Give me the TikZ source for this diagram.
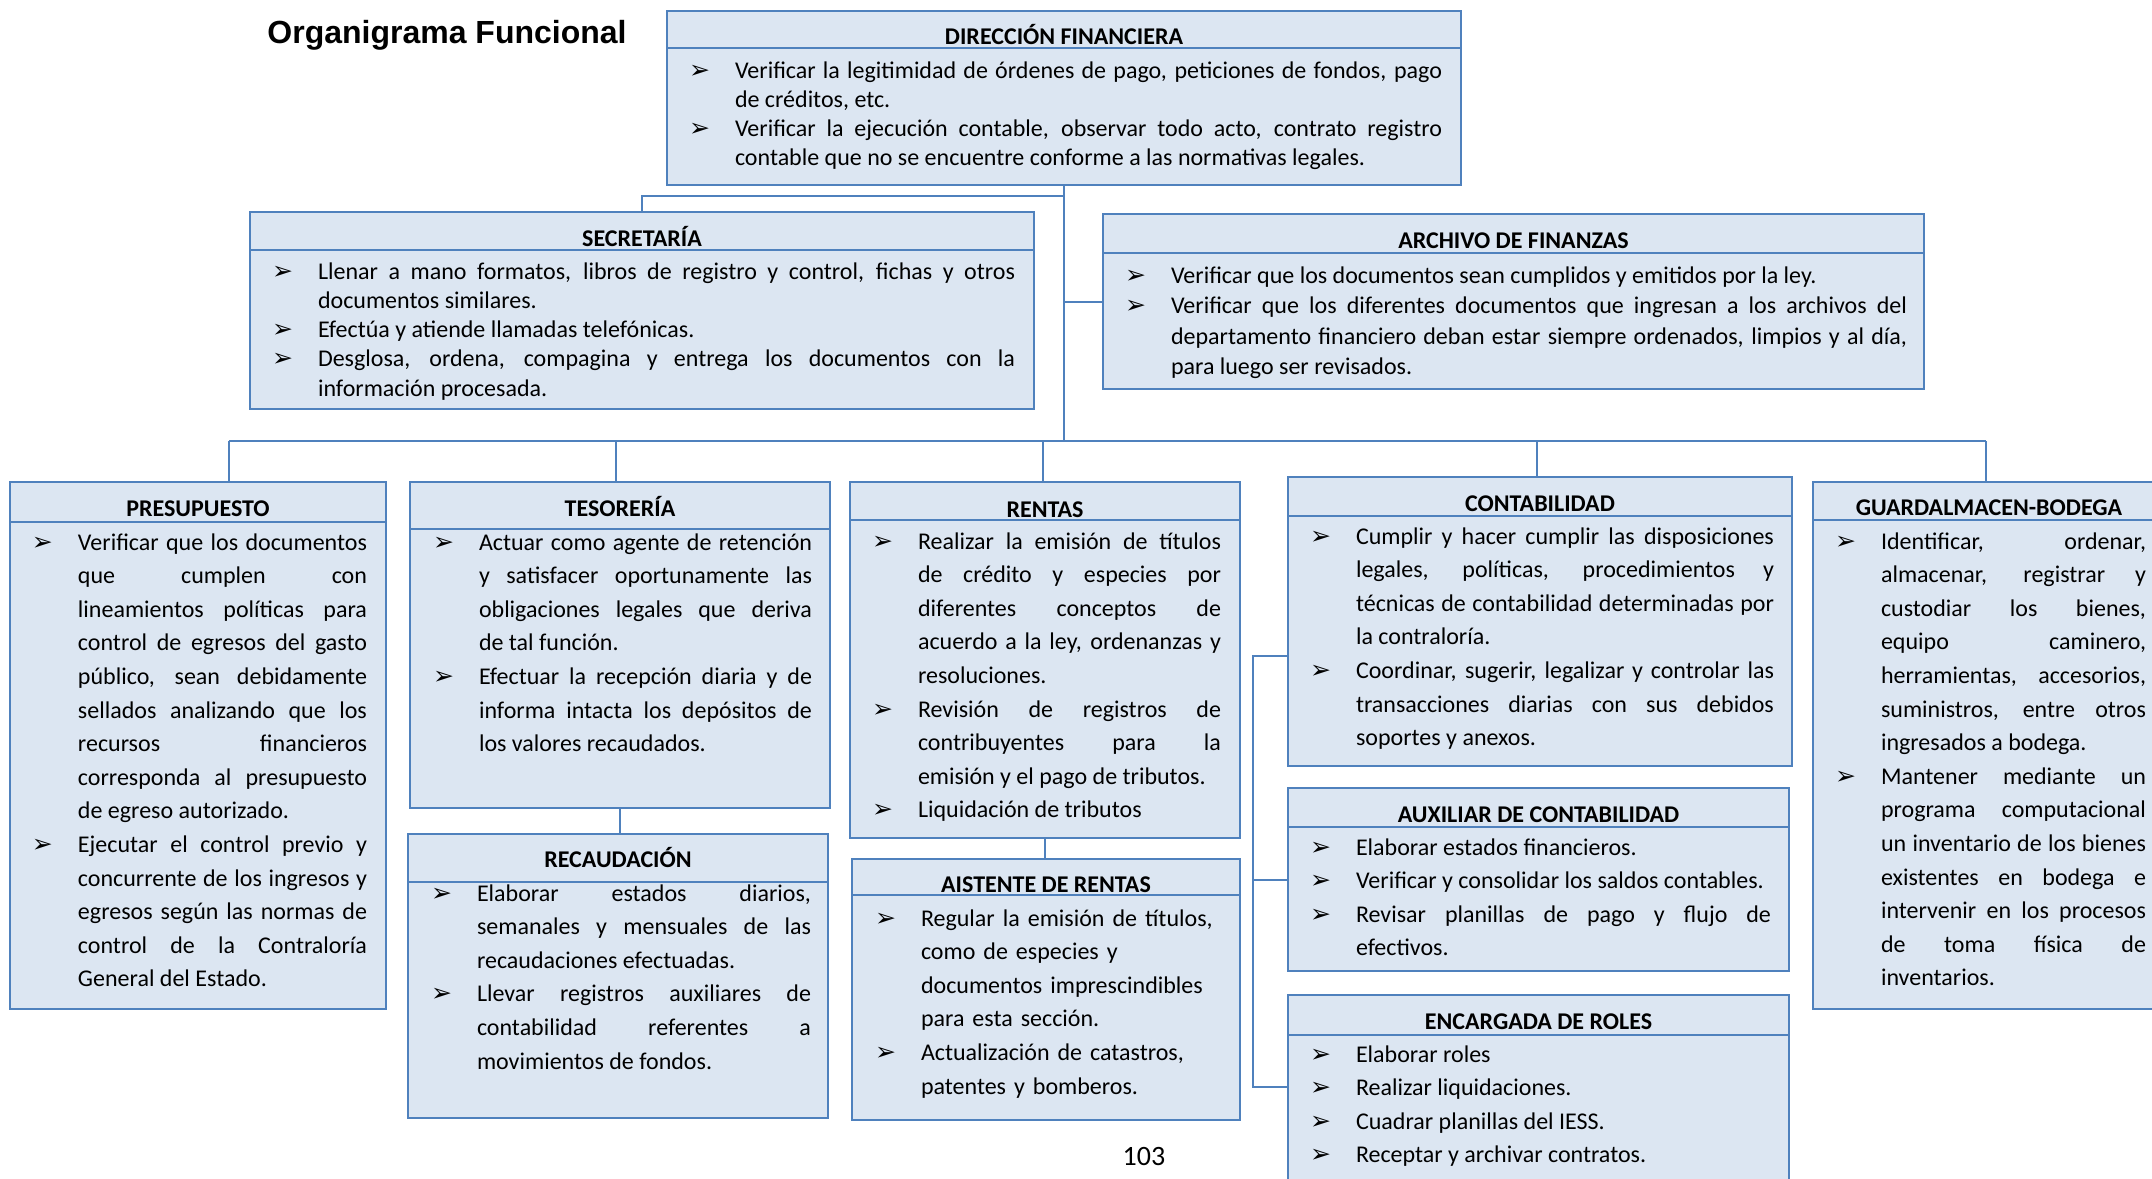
\documentclass[tikz,border=0pt]{standalone}
\usepackage{fontspec}
\setmainfont{Carlito}
\newfontfamily\ttlfamily{Liberation Sans}
\newfontfamily\dvsans{DejaVu Sans}
\definecolor{bline}{HTML}{4F81BD}
\definecolor{bfill}{HTML}{DCE6F2}
\newlength\bind
\setlength\bind{23pt}
\newcommand{\bulmark}{{\dvsans\bfseries\fontsize{12.5}{12}\selectfont ➢}}
\newcommand{\orgitem}[1]{\hangindent=\bind\hangafter=1\noindent\makebox[\bind][l]{\bulmark}#1\par}
\tikzset{
  orgbox/.style={draw=bline, fill=bfill, line width=1.2pt, rectangle, inner sep=0pt, outer sep=0pt, anchor=north west},
  divline/.style={draw=bline, line width=1.2pt},
  ttl/.style={anchor=base, inner sep=0pt, font=\bfseries\fontsize{12}{14}\selectfont},
  body/.style={anchor=base west, inner sep=0pt, outer sep=0pt, align=justify,
    font=\fontsize{12}{16.8}\selectfont,
    execute at begin node={\tolerance=10000\hbadness=10000\hyphenpenalty=10000\exhyphenpenalty=10000}},
  conn/.style={draw=bline, line width=1pt}
}
\newcommand{\obox}[8]{%
  \node[orgbox, minimum width={(#4-#2)*0.5}, minimum height={(#5-#3)*0.5}] (#1) at (#2,#3) {};
  \draw[divline] (#2,#6) -- (#4,#6);
  \node[ttl] (#1-t) at ({(#2+#4)/2},#7) {#8};
}
\begin{document}
\begin{tikzpicture}[x=0.5pt,y=-0.5pt]
\fill[white] (0,0) rectangle (2152,1178);
\useasboundingbox (0,0) rectangle (2152,1178);

\node[anchor=base, inner sep=0pt, font=\ttlfamily\bfseries\fontsize{16}{16}\selectfont] (title) at (447,43) {Organigrama Funcional};

% boxes
\obox{df}{667}{11}{1461}{185}{48}{44}{DIRECCIÓN FINANCIERA}
\obox{sec}{250}{212}{1034}{409}{250}{246}{SECRETARÍA}
\obox{arch}{1103}{214}{1924}{389}{253}{248}{ARCHIVO DE FINANZAS}
\obox{pres}{10}{482}{386}{1009}{522}{516}{PRESUPUESTO}
\obox{tes}{410}{482}{830}{808}{529}{516}{TESORERÍA}
\obox{rec}{408}{834}{828}{1118}{882}{867}{RECAUDACIÓN}
\obox{ren}{850}{482}{1240}{838}{520}{517}{RENTAS}
\obox{ais}{852}{859}{1240}{1120}{895}{892}{AISTENTE DE RENTAS}
\obox{cont}{1288}{477}{1792}{766}{516}{511}{CONTABILIDAD}
\obox{aux}{1288}{788}{1789}{971}{827}{822}{AUXILIAR DE CONTABILIDAD}
\obox{enc}{1288}{995}{1789}{1200}{1035}{1029}{ENCARGADA DE ROLES}
\obox{guard}{1813}{482}{2165}{1009}{520}{515}{GUARDALMACEN-BODEGA}

% bodies
\node[body, text width=376.5pt, font=\fontsize{12}{14.5}\selectfont] (df-b) at (689,78) {%
\orgitem{Verificar la legitimidad de órdenes de pago, peticiones de fondos, pago\linebreak de créditos, etc.}%
\orgitem{Verificar la ejecución contable, observar todo acto, contrato registro\linebreak contable que no se encuentre conforme a las normativas legales.}};

\node[body, text width=371.5pt, font=\fontsize{12}{14.65}\selectfont] (sec-b) at (272,279) {%
\orgitem{Llenar a mano formatos, libros de registro y control, fichas y otros\linebreak documentos similares.}%
\orgitem{Efectúa y atiende llamadas telefónicas.}%
\orgitem{Desglosa, ordena, compagina y entrega los documentos con la\linebreak información procesada.}};

\node[body, text width=391pt, font=\fontsize{12}{15.25}\selectfont] (arch-b) at (1125,283) {%
\orgitem{Verificar que los documentos sean cumplidos y emitidos por la ley.}%
\orgitem{Verificar que los diferentes documentos que ingresan a los archivos del\linebreak departamento financiero deban estar siempre ordenados, limpios y al día,\linebreak para luego ser revisados.}};

\node[body, text width=167.5pt] (pres-b) at (32,550) {%
\orgitem{Verificar que los documentos\linebreak que cumplen con\linebreak lineamientos políticas para\linebreak control de egresos del gasto\linebreak público, sean debidamente\linebreak sellados analizando que los\linebreak recursos financieros\linebreak corresponda al presupuesto\linebreak de egreso autorizado.}%
\orgitem{Ejecutar el control previo y\linebreak concurrente de los ingresos y\linebreak egresos según las normas de\linebreak control de la Contraloría\linebreak General del Estado.}};

\node[body, text width=189.5pt] (tes-b) at (433,550) {%
\orgitem{Actuar como agente de retención\linebreak y satisfacer oportunamente las\linebreak obligaciones legales que deriva\linebreak de tal función.}%
\orgitem{Efectuar la recepción diaria y de\linebreak informa intacta los depósitos de\linebreak los valores recaudados.}};

\node[body, text width=190pt] (rec-b) at (431,901) {%
\orgitem{Elaborar estados diarios,\linebreak semanales y mensuales de las\linebreak recaudaciones efectuadas.}%
\orgitem{Llevar registros auxiliares de\linebreak contabilidad referentes a\linebreak movimientos de fondos.}};

\node[body, text width=174.5pt] (ren-b) at (872,549) {%
\orgitem{Realizar la emisión de títulos\linebreak de crédito y especies por\linebreak diferentes conceptos de\linebreak acuerdo a la ley, ordenanzas y\linebreak resoluciones.}%
\orgitem{Revisión de registros de\linebreak contribuyentes para la\linebreak emisión y el pago de tributos.}%
\orgitem{Liquidación de tributos}};

\node[body, text width=173pt, align=left] (ais-b) at (875,926) {%
\orgitem{Regular la emisión de títulos,\linebreak como de especies y\linebreak documentos imprescindibles\linebreak para esta sección.}%
\orgitem{Actualización de catastros,\linebreak patentes y bomberos.}};

\node[body, text width=232pt] (cont-b) at (1310,544) {%
\orgitem{Cumplir y hacer cumplir las disposiciones\linebreak legales, políticas, procedimientos y\linebreak técnicas de contabilidad determinadas por\linebreak la contraloría.}%
\orgitem{Coordinar, sugerir, legalizar y controlar las\linebreak transacciones diarias con sus debidos\linebreak soportes y anexos.}};

\node[body, text width=230.5pt] (aux-b) at (1310,855) {%
\orgitem{Elaborar estados financieros.}%
\orgitem{Verificar y consolidar los saldos contables.}%
\orgitem{Revisar planillas de pago y flujo de\linebreak efectivos.}};

\node[body, text width=230.5pt] (enc-b) at (1310,1062) {%
\orgitem{Elaborar roles}%
\orgitem{Realizar liquidaciones.}%
\orgitem{Cuadrar planillas del IESS.}%
\orgitem{Receptar y archivar contratos.}};

\node[body, text width=155.5pt] (guard-b) at (1835,549) {%
\orgitem{Identificar, ordenar,\linebreak almacenar, registrar y\linebreak custodiar los bienes,\linebreak equipo caminero,\linebreak herramientas, accesorios,\linebreak suministros, entre otros\linebreak ingresados a bodega.}%
\orgitem{Mantener mediante un\linebreak programa computacional\linebreak un inventario de los bienes\linebreak existentes en bodega e\linebreak intervenir en los procesos\linebreak de toma física de\linebreak inventarios.}};

\node[anchor=base, inner sep=0pt, font=\fontsize{14}{14}\selectfont] (pg) at (1144,1165) {103};

% connectors
\coordinate (bus) at (0,441);
\coordinate (jsec) at (0,196);
\coordinate (jpres) at (229,441);
\coordinate (jtes) at (616,441);
\coordinate (jren) at (1043,441);
\coordinate (jcont) at (1537,441);
\coordinate (jguard) at (1986,441);
\draw[conn] (df.south) -- (df.south |- bus);
\draw[conn] (df.south |- jsec) -| (sec.north);
\draw[conn] (arch.west) -- (arch.west -| df.south);
\draw[conn] (jpres) -- (jguard);
\draw[conn] (jpres) -- (jpres |- pres.north);
\draw[conn] (jtes) -- (jtes |- tes.north);
\draw[conn] (jren) -- (jren |- ren.north);
\draw[conn] (jcont) -- (jcont |- cont.north);
\draw[conn] (jguard) -- (jguard |- guard.north);
\draw[conn] (tes.south) -- (tes.south |- rec.north);
\draw[conn] (ren.south) -- (ren.south |- ais.north);
\coordinate (bt) at (1253,656);
\coordinate (bm) at (1253,880);
\coordinate (bb) at (1253,1087);
\draw[conn] (bt -| cont.west) -- (bt) -- (bb) -- (bb -| enc.west);
\draw[conn] (bm) -- (bm -| aux.west);
\end{tikzpicture}
\end{document}
